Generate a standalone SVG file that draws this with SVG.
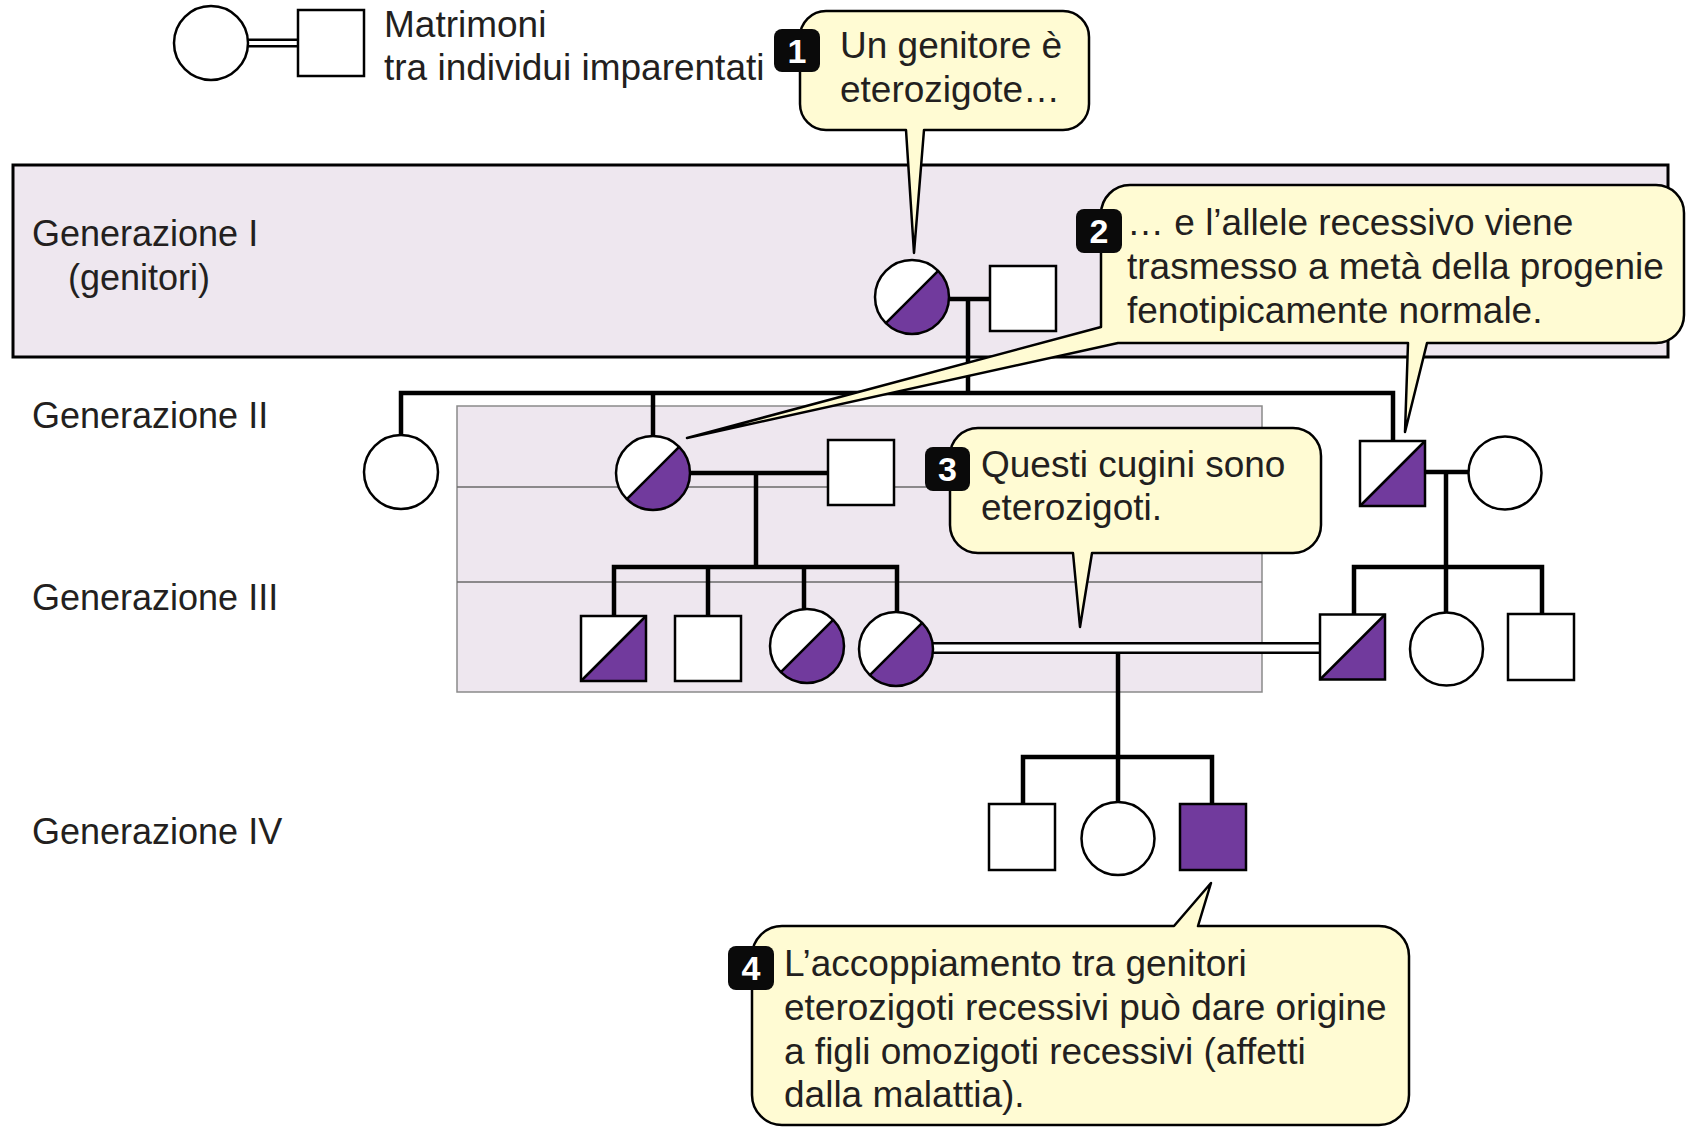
<svg xmlns="http://www.w3.org/2000/svg" xmlns:xlink="http://www.w3.org/1999/xlink" width="1686" height="1127" viewBox="0 0 1686 1127">
  <style>
    .txt { font-family: "Liberation Sans", Arial, sans-serif; font-size: 36px; fill: #231f20; }
    .note { font-size: 37px; }
    .num { font-family: "Liberation Sans", Arial, sans-serif; font-size: 34px; font-weight: bold; fill: #fff; text-anchor: middle; }
    .badge { fill: #0a0a0a; }
    .sym { fill: #fff; stroke: #000; stroke-width: 2.5; }
    .aff { fill: #713a9d; stroke: #000; stroke-width: 2.5; }
    .half { fill: #713a9d; }
    .diag { stroke: #000; stroke-width: 2.5; }
    .outline { fill: none; stroke: #000; stroke-width: 2.5; }
    .link { fill: none; stroke: #000; stroke-width: 4.5; stroke-linejoin: miter; }
    .dblOuter { stroke: #000; stroke-width: 12; }
    .dblInner { stroke: #fff; stroke-width: 7; }
    .callout { fill: #fffbd3; stroke: #000; stroke-width: 2.5; stroke-linejoin: round; }
    .band { fill: #eee7ef; stroke: #000; stroke-width: 3; }
    .box { fill: #eee7ef; stroke: #8a8a8a; stroke-width: 1.5; }
    .rule { stroke: #6a6a6a; stroke-width: 1.5; }
  </style>
  <defs>
    <!-- carrier female: lower-right half filled -->
    <g id="hetCircle">
      <circle r="37" fill="#fff"/>
      <path class="half" d="M-26.16,26.16 A37,37 0 0 0 26.16,-26.16 Z"/>
      <line class="diag" x1="-26.16" y1="26.16" x2="26.16" y2="-26.16"/>
      <circle class="outline" r="37"/>
    </g>
    <!-- carrier male: lower-right triangle filled -->
    <g id="hetSquare">
      <rect x="-32.5" y="-32.5" width="65" height="65" fill="#fff"/>
      <path class="half" d="M-32.5,32.5 L32.5,32.5 L32.5,-32.5 Z"/>
      <line class="diag" x1="-32.5" y1="32.5" x2="32.5" y2="-32.5"/>
      <rect class="outline" x="-32.5" y="-32.5" width="65" height="65"/>
    </g>
  </defs>

  <rect width="1686" height="1127" fill="#fff"/>

  <!-- background bands -->
  <rect class="band" x="13" y="165" width="1655" height="192"/>
  <rect class="box" x="457" y="406" width="805" height="286"/>
  <line class="rule" x1="457" y1="487" x2="1262" y2="487"/>
  <line class="rule" x1="457" y1="582" x2="1262" y2="582"/>

  <!-- legend -->
  <g id="legend">
    <line class="dblOuter" x1="247" y1="43" x2="299" y2="43" style="stroke-width:9"/>
    <line class="dblInner" x1="247" y1="43" x2="299" y2="43" style="stroke-width:4"/>
    <circle class="sym" cx="211" cy="43" r="37"/>
    <rect class="sym" x="298" y="10" width="66" height="66"/>
    <text class="txt note" x="384" y="37">Matrimoni</text>
    <text class="txt note" x="384" y="80">tra individui imparentati</text>
  </g>

  <!-- generation labels -->
  <g id="labels">
    <text class="txt" x="32" y="246">Generazione I</text>
    <text class="txt" x="68" y="290">(genitori)</text>
    <text class="txt" x="32" y="428">Generazione II</text>
    <text class="txt" x="32" y="610">Generazione III</text>
    <text class="txt" x="32" y="844">Generazione IV</text>
  </g>

  <!-- pedigree lines -->
  <g id="connectors">
    <path class="link" d="M949,299 H990"/>
    <path class="link" d="M968,299 V393"/>
    <path class="link" d="M401,436 V393 H1393 V441"/>
    <path class="link" d="M653,393 V436"/>
    <path class="link" d="M690,473 H828"/>
    <path class="link" d="M756,473 V567"/>
    <path class="link" d="M614,616 V567 H897 V612"/>
    <path class="link" d="M708,567 V616"/>
    <path class="link" d="M804,567 V609"/>
    <path class="link" d="M1425,472 H1469"/>
    <path class="link" d="M1446,472 V567"/>
    <path class="link" d="M1354,614 V567 H1542 V614"/>
    <path class="link" d="M1446,567 V612"/>
    <line class="dblOuter" x1="932" y1="648" x2="1321" y2="648"/>
    <line class="dblInner" x1="932" y1="648" x2="1321" y2="648"/>
    <path class="link" d="M1118,654 V757"/>
    <path class="link" d="M1023,804 V757 H1212 V804"/>
    <path class="link" d="M1118,757 V802"/>
  </g>

  <!-- generation I -->
  <g id="I-1"><use xlink:href="#hetCircle" x="912" y="297"/></g>
  <g id="I-2"><rect class="sym" x="990" y="266" width="66" height="65"/></g>

  <!-- generation II -->
  <g id="II-1"><circle class="sym" cx="401" cy="472" r="37"/></g>
  <g id="II-2"><use xlink:href="#hetCircle" x="653" y="473"/></g>
  <g id="II-3"><rect class="sym" x="828" y="440" width="66" height="65"/></g>
  <g id="II-4"><use xlink:href="#hetSquare" x="1392.5" y="473.5"/></g>
  <g id="II-5"><circle class="sym" cx="1505" cy="473" r="36.5"/></g>

  <!-- generation III -->
  <g id="III-1"><use xlink:href="#hetSquare" x="613.5" y="648.5"/></g>
  <g id="III-2"><rect class="sym" x="675" y="616" width="66" height="65"/></g>
  <g id="III-3"><use xlink:href="#hetCircle" x="807" y="646"/></g>
  <g id="III-4"><use xlink:href="#hetCircle" x="896" y="649"/></g>
  <g id="III-5"><use xlink:href="#hetSquare" x="1352.5" y="647"/></g>
  <g id="III-6"><circle class="sym" cx="1446.5" cy="649" r="36.5"/></g>
  <g id="III-7"><rect class="sym" x="1508" y="614" width="66" height="66"/></g>

  <!-- generation IV -->
  <g id="IV-1"><rect class="sym" x="989" y="804" width="66" height="66"/></g>
  <g id="IV-2"><circle class="sym" cx="1118" cy="838.5" r="36.5"/></g>
  <g id="IV-3"><rect class="aff" x="1180" y="804" width="66" height="66"/></g>

  <!-- callouts -->
  <g id="callout-1">
    <path class="callout" d="M826,11 H1063 A26,26 0 0 1 1089,37 V104 A26,26 0 0 1 1063,130 H924 L914,253 L906,130 H826 A26,26 0 0 1 800,104 V37 A26,26 0 0 1 826,11 Z"/>
    <rect class="badge" x="774" y="29" width="46" height="43" rx="8"/>
    <text class="num" x="797" y="63">1</text>
    <text class="txt note" x="840" y="58">Un genitore è</text>
    <text class="txt note" x="840" y="102">eterozigote…</text>
  </g>

  <g id="callout-2">
    <path class="callout" d="M1130,185 H1656 A28,28 0 0 1 1684,213 V315 A28,28 0 0 1 1656,343 H1427 L1405,432 L1408,343 H1118 L687,438 L1101,327 V214 A29,29 0 0 1 1130,185 Z"/>
    <rect class="badge" x="1076" y="209" width="46" height="44" rx="8"/>
    <text class="num" x="1099" y="243">2</text>
    <text class="txt note" x="1127" y="235">… e l’allele recessivo viene</text>
    <text class="txt note" x="1127" y="279">trasmesso a metà della progenie</text>
    <text class="txt note" x="1127" y="323">fenotipicamente normale.</text>
  </g>

  <g id="callout-3">
    <path class="callout" d="M978,428 H1293 A28,28 0 0 1 1321,456 V525 A28,28 0 0 1 1293,553 H1092 L1080,627 L1073,553 H978 A28,28 0 0 1 950,525 V456 A28,28 0 0 1 978,428 Z"/>
    <rect class="badge" x="925" y="447" width="45" height="44" rx="8"/>
    <text class="num" x="947.5" y="481">3</text>
    <text class="txt note" x="981" y="477">Questi cugini sono</text>
    <text class="txt note" x="981" y="520">eterozigoti.</text>
  </g>

  <g id="callout-4">
    <path class="callout" d="M782,926 H1174 L1211,883 L1198,926 H1379 A30,30 0 0 1 1409,956 V1095 A30,30 0 0 1 1379,1125 H782 A30,30 0 0 1 752,1095 V956 A30,30 0 0 1 782,926 Z"/>
    <rect class="badge" x="728" y="946" width="46" height="44" rx="8"/>
    <text class="num" x="751" y="980">4</text>
    <text class="txt note" x="784" y="976">L’accoppiamento tra genitori</text>
    <text class="txt note" x="784" y="1020">eterozigoti recessivi può dare origine</text>
    <text class="txt note" x="784" y="1064">a figli omozigoti recessivi (affetti</text>
    <text class="txt note" x="784" y="1107">dalla malattia).</text>
  </g>
</svg>
